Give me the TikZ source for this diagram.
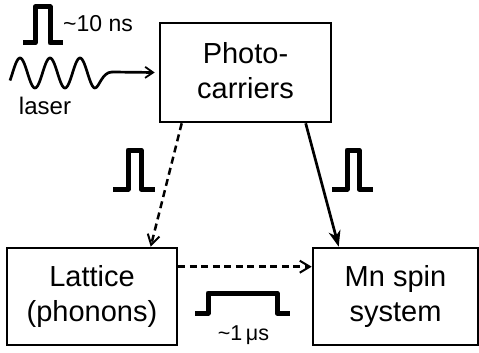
\documentclass[tikz,border=0pt]{standalone}
\usepackage{fontspec}
\setmainfont{Liberation Sans}
\usetikzlibrary{arrows.meta,calc}

\tikzset{
  box/.style={draw, line width=2.6pt, rectangle, inner sep=0pt, align=center,
              font=\fontsize{29}{35}\selectfont},
  pulse/.style={line width=5pt, line join=round, line cap=butt},
  link/.style={line width=2.7pt},
  dashlink/.style={line width=2.5pt, dash pattern=on 7pt off 4.5pt},
  barb/.style={-{Straight Barb[length=10pt,width=12pt,line width=2pt]}},
  solidtip/.style={-{Stealth[length=16pt,width=12pt,inset=5pt]}},
  small/.style={font=\fontsize{23}{26}\selectfont, inner sep=0pt},
}

\begin{document}
\begin{tikzpicture}[x=1pt, y=-1pt]
  \useasboundingbox (0,0) rectangle (479,353);

  % the three boxes
  \node[box, minimum width=171pt, minimum height=99pt, text depth=5pt]
       (photo) at (245.5,72.5) {Photo-\\carriers};
  \node[box, minimum width=170pt, minimum height=97pt]
       (lattice) at (92,296.5) {Lattice\\(phonons)};
  \node[box, minimum width=165pt, minimum height=97pt]
       (mn) at (395.5,296.5) {Mn spin\\system};

  % laser excitation: pulse, wave and arrow into the photo-carrier box
  \draw[pulse] (23,43) -- (35,43) -- (35,7) -- (50,7) -- (50,43) -- (63,43);
  \node[small, anchor=base west] (ns) at (63,32) {\textasciitilde10 ns};
  \draw[link, line join=round]
       plot[domain=10:95, samples=100, smooth] (\x,{73-15*cos(12*(\x-20))})
       .. controls (99,88) and (102,72) .. (112,72)
       coordinate (wtail);
  \draw[link, -{Straight Barb[length=8pt,width=11pt,line width=1.8pt]}]
       (wtail) -- ($(photo.west)+(-4,0)$);
  \node[small, font=\fontsize{24}{26}\selectfont, anchor=base] (laser) at (45,114) {laser};

  % transfer paths
  \draw[dashlink, barb] ($(photo.south west)+(23,0)$) -- ($(lattice.north west)+(145,0)$);
  \draw[link, solidtip] ($(photo.south west)+(147,0)$) -- ($(mn.north west)+(27,0)$);
  \draw[dashlink, barb] ($(lattice.north east)+(0,20)$) -- ($(mn.north west)+(0,20)$);

  % pulse shapes along the paths
  \draw[pulse] (113,189) -- (128,189) -- (128,150) -- (141,150) -- (141,189) -- (155,189);
  \draw[pulse] (332,189) -- (347,189) -- (347,150) -- (359,150) -- (359,189) -- (373,189);
  \draw[pulse] (195,313) -- (208,313) -- (208,293) -- (277,293) -- (277,313) -- (290,313);
  \node[small, font=\fontsize{21.5}{24}\selectfont, anchor=base] (us) at (243.5,340)
       {\textasciitilde1\,μs};
\end{tikzpicture}
\end{document}
